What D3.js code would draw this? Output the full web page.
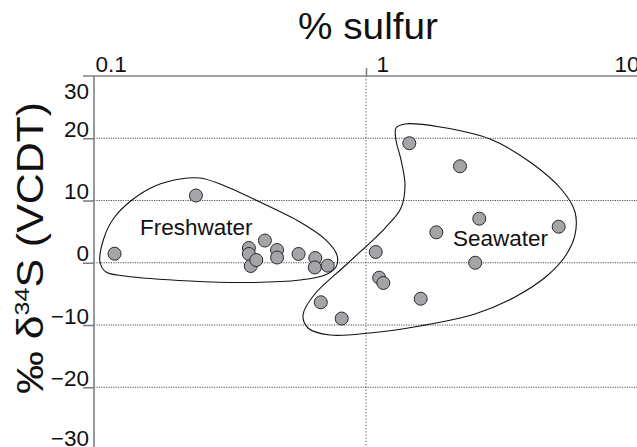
<!DOCTYPE html>
<html><head><meta charset="utf-8">
<script src="https://cdn.jsdelivr.net/npm/d3@7"></script>
<style>
html,body{margin:0;padding:0;background:#fff;}
svg{display:block;font-family:"Liberation Sans",Arial,Helvetica,sans-serif;}
</style></head>
<body><svg id="c" width="637" height="447"></svg>
<script>
// ---- data ----
const xTickValues = [0.1, 1, 10];
const xTickLabels = ["0.1", "1", "10"];
const yTickValues = [-30, -20, -10, 0, 10, 20, 30];
const yTickLabels = ["\u221230", "\u221220", "\u221210", "0", "10", "20", "30"];

const freshSulfur = [0.119, 0.237, 0.371, 0.371, 0.377, 0.395, 0.425, 0.471, 0.471, 0.565, 0.651, 0.648, 0.723];
const freshD34S   = [1.45, 10.8, 2.37, 1.41, -0.52, 0.44, 3.57, 2.05, 0.84, 1.41, 0.76, -0.76, -0.47];

const seaSulfur = [1.443, 2.216, 2.609, 5.11, 1.814, 2.521, 1.086, 1.118, 1.158, 1.589, 0.682, 0.814];
const seaD34S   = [19.2, 15.5, 7.08, 5.79, 4.89, 0.0, 1.73, -2.40, -3.25, -5.78, -6.35, -8.96];

// outline (enclosing) curves, in data units
const freshOutlineSulfur = [0.1052,0.1088,0.1184,0.1379,0.1676,0.2071,0.2453,0.2905,0.4076,0.5720,0.7127,0.7821,0.7755,0.7068,0.5720,0.3746,0.2254,0.1300,0.1107];
const freshOutlineD34S   = [0.12,3.98,7.19,10.08,12.33,13.45,13.61,12.65,9.76,6.55,3.65,1.24,-0.68,-1.97,-2.77,-3.17,-2.93,-2.13,-1.49];
const seaOutlineSulfur = [1.289,1.391,1.871,2.857,4.009,5.256,5.866,5.866,5.437,4.669,3.530,2.516,1.579,1.034,0.7373,0.6119,0.5867,0.6438,0.8514,1.175,1.345,1.391,1.345,1.289];
const seaOutlineD34S   = [21.65,22.29,21.81,19.88,16.18,11.69,8.15,4.46,1.24,-1.97,-5.50,-8.23,-10.16,-11.29,-11.61,-10.48,-8.39,-5.18,-0.20,5.58,8.80,12.49,16.51,19.72];

const groupLabels = ["Freshwater", "Seawater"];
const groupLabelSulfur = [0.1476, 2.089];
const groupLabelD34S = [4.46, 2.69];

// ---- chart ----
const svg = d3.select("#c");
const W = 637, H = 447;
const x = d3.scaleLog().domain([0.1, 10]).range([94, 638]);
const y = d3.scaleLinear().domain([-30, 30]).range([449.5, 76]);

const axisCol = "#808080";
const gridCol = "#222";
const tickFont = 22.5;

// horizontal gridlines
svg.append("g").selectAll("line").data(yTickValues.filter(v => v > -30 && v < 30)).join("line")
  .attr("x1", x(0.1)).attr("x2", W)
  .attr("y1", d => y(d)).attr("y2", d => y(d))
  .attr("stroke", gridCol).attr("stroke-width", 0.8).attr("stroke-dasharray", "1.2,1.2");
// vertical gridline at 1
svg.append("line")
  .attr("x1", x(1)).attr("x2", x(1)).attr("y1", y(30)).attr("y2", H)
  .attr("stroke", gridCol).attr("stroke-width", 0.8).attr("stroke-dasharray", "1.2,2");

// top axis
const gx = svg.append("g").attr("transform", `translate(0,${y(30)})`)
  .call(d3.axisTop(x).tickValues(xTickValues).tickFormat((d, i) => xTickLabels[i]).tickSize(8).tickSizeOuter(0));
gx.select(".domain").attr("d", `M83,0H${W}`).attr("stroke", axisCol).attr("stroke-width", 1.6);
gx.selectAll(".tick line").attr("stroke", axisCol).attr("stroke-width", 1.6)
  .attr("display", d => d === 1 ? null : "none");
const xLabelShift = {0.1: 1, 1: 10, 10: -24};
gx.selectAll(".tick text").attr("font-size", tickFont).attr("fill", "#111")
  .attr("text-anchor", "start").attr("x", d => xLabelShift[d]).attr("y", -4).attr("dy", 0);

// left axis
const gy = svg.append("g").attr("transform", `translate(${x(0.1)},0)`)
  .call(d3.axisLeft(y).tickValues(yTickValues).tickFormat((d, i) => yTickLabels[i]).tickSize(11).tickSizeOuter(0));
gy.select(".domain").attr("d", `M0,${y(30)}V${H}`).attr("stroke", axisCol).attr("stroke-width", 1.6);
gy.selectAll(".tick line").attr("stroke", axisCol).attr("stroke-width", 1.6)
  .attr("display", d => (d === 30 || d === -30) ? "none" : null);
gy.selectAll(".tick text").attr("font-size", tickFont).attr("fill", "#111")
  .attr("x", -5).attr("dy", d => d === 30 ? 22 : (d === -30 ? -4 : -2));

// outlines
const outline = d3.line().x(d => x(d[0])).y(d => y(d[1])).curve(d3.curveCatmullRomClosed.alpha(0.5));
svg.append("path").datum(freshOutlineSulfur.map((s, i) => [s, freshOutlineD34S[i]]))
  .attr("d", outline).attr("fill", "none").attr("stroke", "#111").attr("stroke-width", 1.1);
svg.append("path").datum(seaOutlineSulfur.map((s, i) => [s, seaOutlineD34S[i]]))
  .attr("d", outline).attr("fill", "none").attr("stroke", "#111").attr("stroke-width", 1.1);

// group labels
svg.append("g").selectAll("text").data(groupLabels).join("text")
  .attr("x", (d, i) => x(groupLabelSulfur[i])).attr("y", (d, i) => y(groupLabelD34S[i]))
  .attr("font-size", 22.5).attr("fill", "#111").text(d => d);

// points
const pts = freshSulfur.map((s, i) => [s, freshD34S[i]]).concat(seaSulfur.map((s, i) => [s, seaD34S[i]]));
svg.append("g").selectAll("circle").data(pts).join("circle")
  .attr("cx", d => x(d[0])).attr("cy", d => y(d[1])).attr("r", 6.5)
  .attr("fill", "#a5a5a9").attr("stroke", "#2a2a2a").attr("stroke-width", 1);

// titles
svg.append("text").attr("x", 368).attr("y", 39).attr("text-anchor", "middle")
  .attr("font-size", 36).attr("textLength", 140).attr("lengthAdjust", "spacingAndGlyphs")
  .attr("fill", "#111").text("% sulfur");
const yl = svg.append("text").attr("transform", "translate(43,248) rotate(-90)")
  .attr("text-anchor", "middle").attr("font-size", 36).attr("fill", "#111")
  .attr("textLength", 292).attr("lengthAdjust", "spacingAndGlyphs");
yl.append("tspan").text("\u2030 \u03b4");
yl.append("tspan").attr("font-size", 21).attr("dy", -14).text("34");
yl.append("tspan").attr("dy", 14).text("S (VCDT)");
</script></body></html>
